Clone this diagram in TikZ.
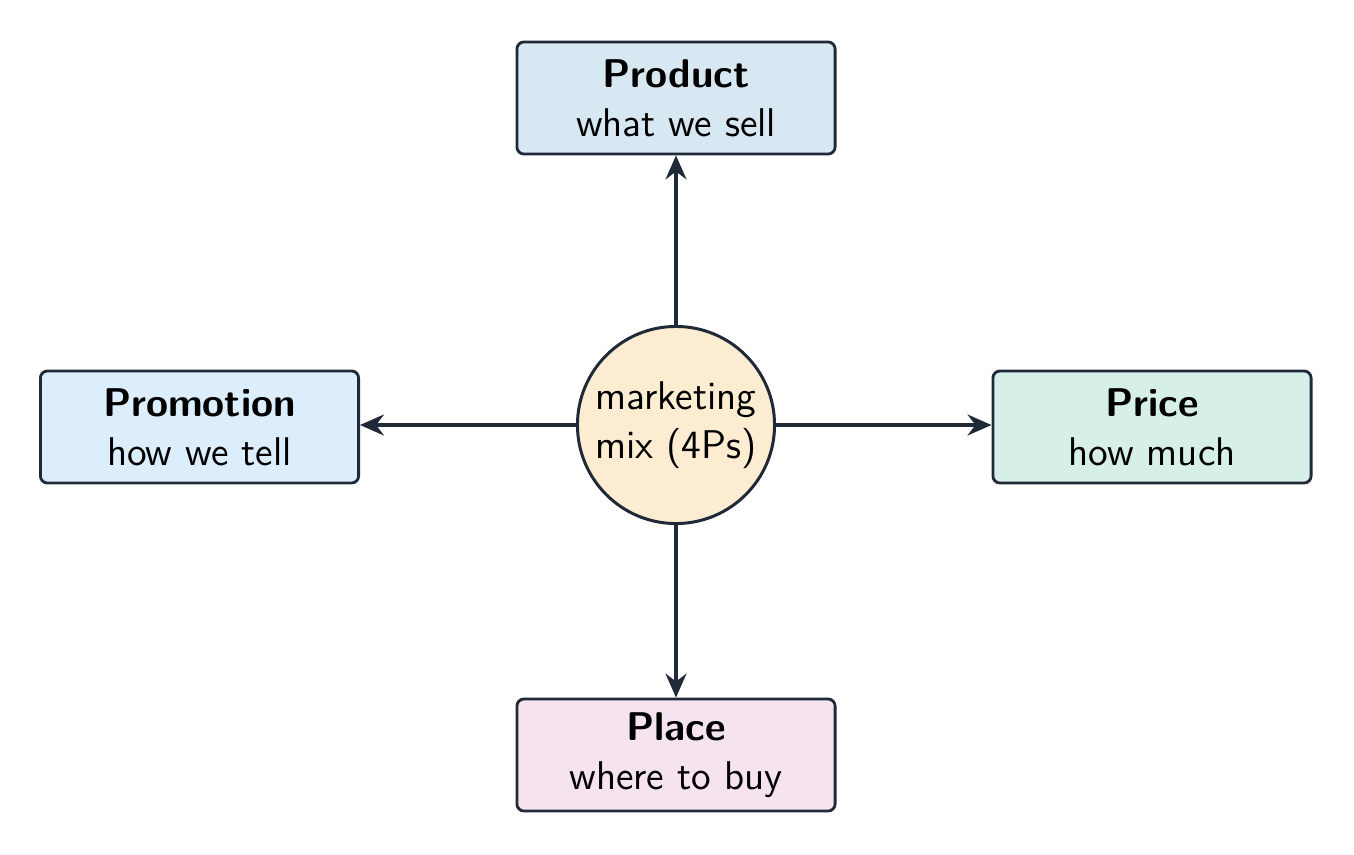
\documentclass[tikz,border=0pt]{standalone}
\usetikzlibrary{arrows.meta}
\definecolor{edgec}{HTML}{1F2937}
\definecolor{prodc}{HTML}{D8E8F3}
\definecolor{promc}{HTML}{DCEEFB}
\definecolor{pricec}{HTML}{D6EFE8}
\definecolor{placec}{HTML}{F5E4EF}
\definecolor{hubc}{HTML}{FBECD2}
\begin{document}
\begin{tikzpicture}[x=0.01cm,y=-0.01cm,
  every node/.style={font=\sffamily\fontsize{11.4}{14}\selectfont, text=black},
  pbox/.style={draw=edgec, line width=0.8pt, rounded corners=2pt, minimum width=3.18cm, minimum height=1.12cm, align=center, inner sep=0pt},
  hub/.style={draw=edgec, line width=0.85pt, circle, fill=hubc, minimum size=1.97cm, inner sep=0pt, align=center},
  conn/.style={draw=edgec, line width=0.9pt, -{Stealth[length=2.4mm, width=2.1mm, inset=0.8mm]}}]
\useasboundingbox (0,0) rectangle (1354,854);
\node[hub] (mix) at (676,425) {marketing\\mix (4Ps)};
\node[pbox, fill=prodc] (product) at (676,98) {\textbf{Product}\\what we sell};
\node[pbox, fill=promc] (promotion) at (199.5,427) {\textbf{Promotion}\\how we tell};
\node[pbox, fill=pricec] (price) at (1152,427) {\textbf{Price}\\how much};
\node[pbox, fill=placec] (place) at (676,755) {\textbf{Place}\\where to buy};
\draw[conn] (mix) -- (product);
\draw[conn] (mix) -- (place);
\draw[conn] (mix.west) -- (mix.west -| promotion.east);
\draw[conn] (mix.east) -- (mix.east -| price.west);
\end{tikzpicture}
\end{document}
